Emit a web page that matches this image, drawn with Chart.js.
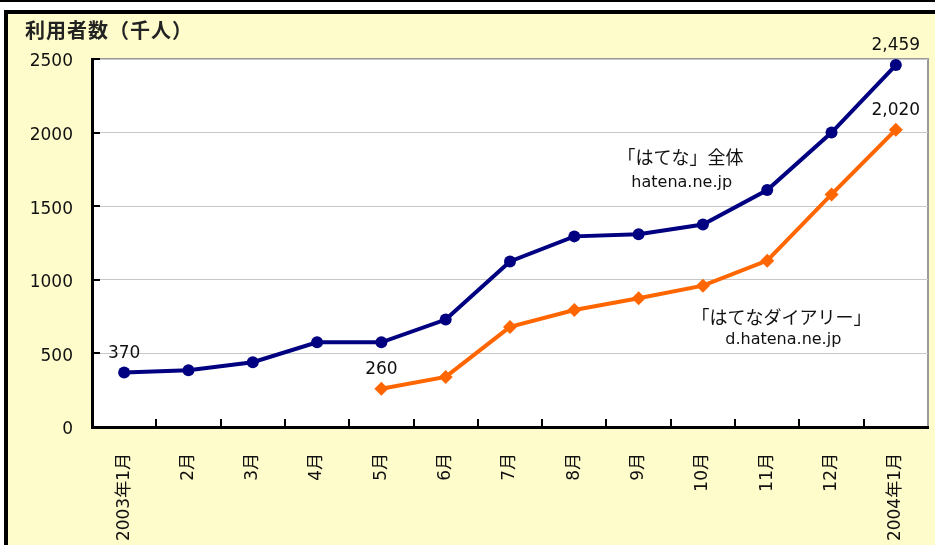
<!DOCTYPE html>
<html lang="ja">
<head>
<meta charset="UTF-8">
<title>はてな 利用者数</title>
<script src="https://cdn.jsdelivr.net/npm/chart.js"></script>
<style>
  body { margin: 0; width: 935px; height: 545px; overflow: hidden; position: relative; background: #fff; }
  #topline { position: absolute; left: 0; top: 0; width: 935px; height: 2px; background: #000; }
  #frame { position: absolute; left: 4px; top: 10px; width: 927px; height: 531px;
           border-top: 4px solid #000; border-left: 4px solid #000; background: #fffccc; }
  #unit { position: absolute; left: 17px; top: 5px; z-index: 2; color: #222; letter-spacing: 1px;
          font: bold 20px 'Noto Sans CJK JP', sans-serif; line-height: 22px; }
  #chart { position: absolute; left: 0; top: 0; }
</style>
</head>
<body>
<div id="topline"></div>
<div id="frame">
  <div id="unit">利用者数（千人）</div>
  <canvas id="chart" width="927" height="531"></canvas>
</div>
<script>
// months, 2003/1 .. 2004/1
const months = ['2003年1月', '2月', '3月', '4月', '5月', '6月', '7月', '8月', '9月', '10月', '11月', '12月', '2004年1月'];
// users (thousands)
const hatenaAll = [370, 385, 440, 575, 575, 730, 1125, 1295, 1310, 1375, 1610, 2000, 2459];
const hatenaDiary = [null, null, null, null, 260, 340, 680, 795, 875, 960, 1130, 1580, 2020];
const yTicks = [0, 500, 1000, 1500, 2000, 2500];

const navy = '#000080';
const orange = '#ff6600';
const numFont = "'DejaVu Sans', 'Noto Sans CJK JP', sans-serif";

// text notes placed in data space (category index, value)
const notes = [
  { text: '「はてな」全体', at: 8.65, value: 1834, font: "18px 'Noto Sans CJK JP'" },
  { text: 'hatena.ne.jp', at: 8.67, value: 1658, font: "16px 'DejaVu Sans'" },
  { text: '「はてなダイアリー」', at: 10.22, value: 747, font: "18px 'Noto Sans CJK JP'" },
  { text: 'd.hatena.ne.jp', at: 10.25, value: 591, font: "16px 'DejaVu Sans'" }
];

const extras = {
  id: 'extras',
  beforeDraw(chart) {
    const { ctx, chartArea: a } = chart;
    ctx.save();
    ctx.fillStyle = '#fff';
    ctx.fillRect(a.left, a.top, a.right - a.left, a.bottom - a.top);
    ctx.strokeStyle = '#999';
    ctx.lineWidth = 2;
    ctx.beginPath();
    ctx.moveTo(a.left, a.top);
    ctx.lineTo(a.right, a.top);
    ctx.lineTo(a.right, a.bottom);
    ctx.stroke();
    ctx.restore();
  },
  afterDatasetsDraw(chart) {
    const { ctx, chartArea: a, scales: { x, y } } = chart;
    const step = x.getPixelForValue(1) - x.getPixelForValue(0);
    ctx.save();
    // inward tick marks
    ctx.strokeStyle = '#000';
    ctx.lineWidth = 2;
    ctx.beginPath();
    for (let i = 1; i < months.length; i++) {
      const px = Math.round(x.getPixelForValue(i) - step / 2);
      ctx.moveTo(px, a.bottom);
      ctx.lineTo(px, a.bottom - 8);
    }
    yTicks.forEach(v => {
      const py = Math.round(y.getPixelForValue(v));
      ctx.moveTo(a.left, py);
      ctx.lineTo(a.left + 8, py);
    });
    ctx.stroke();

    // first / last value labels
    ctx.fillStyle = '#111';
    ctx.font = '17px ' + numFont;
    ctx.textAlign = 'center';
    ctx.textBaseline = 'middle';
    chart.data.datasets.forEach(ds => {
      const idx = ds.data.map((v, i) => v == null ? -1 : i).filter(i => i >= 0);
      [idx[0], idx[idx.length - 1]].forEach(i => {
        const v = ds.data[i];
        ctx.fillText(v.toLocaleString('en-US'), x.getPixelForValue(i), y.getPixelForValue(v) - 19);
      });
    });

    // series notes
    notes.forEach(n => {
      ctx.font = n.font;
      ctx.fillText(n.text, x.getPixelForValue(0) + n.at * step, y.getPixelForValue(n.value));
    });
    ctx.restore();
  }
};

new Chart(document.getElementById('chart'), {
  type: 'line',
  data: {
    labels: months,
    datasets: [
      {
        label: '「はてな」全体',
        data: hatenaAll,
        borderColor: navy,
        backgroundColor: navy,
        borderWidth: 4,
        pointStyle: 'circle',
        pointRadius: 6,
        pointBorderWidth: 0,
        tension: 0
      },
      {
        label: '「はてなダイアリー」',
        data: hatenaDiary,
        borderColor: orange,
        backgroundColor: orange,
        borderWidth: 4,
        pointStyle: 'rectRot',
        pointRadius: 7,
        pointBorderWidth: 0,
        tension: 0
      }
    ]
  },
  options: {
    responsive: false,
    animation: false,
    events: [],
    layout: { padding: { top: 45, right: 3, left: 0, bottom: 0 } },
    plugins: { legend: { display: false }, tooltip: { enabled: false } },
    scales: {
      x: {
        offset: true,
        grid: { display: false },
        border: { color: '#000', width: 3 },
        ticks: {
          color: '#111',
          font: { family: numFont, size: 17 },
          padding: 18,
          minRotation: 90,
          maxRotation: 90,
          autoSkip: false
        },
        afterFit(s) { s.height = 118; }
      },
      y: {
        min: 0,
        max: 2500,
        afterBuildTicks(s) { s.ticks = yTicks.map(v => ({ value: v })); },
        grid: { color: '#c8c8c8', lineWidth: 1, drawTicks: false },
        border: { color: '#000', width: 3 },
        ticks: {
          color: '#111',
          font: { family: numFont, size: 17 },
          padding: 19,
          labelOffset: 3,
          callback: v => String(v)
        },
        afterFit(s) { s.width = 84; }
      }
    }
  },
  plugins: [extras]
});
</script>
</body>
</html>
